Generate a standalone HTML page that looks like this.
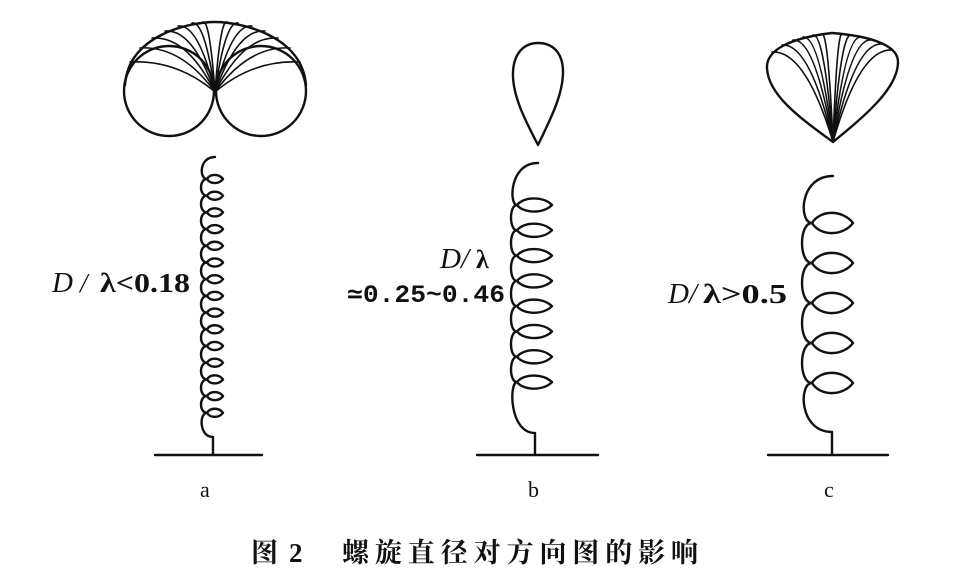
<!DOCTYPE html>
<html><head><meta charset="utf-8"><style>
html,body{margin:0;padding:0;background:#fff;}
svg{display:block;}
</style></head><body>
<svg id="s" width="971" height="569" viewBox="0 0 971 569" xmlns="http://www.w3.org/2000/svg">
<g fill="none" stroke="#111" stroke-width="2.4" stroke-linecap="round" stroke-linejoin="round">
<circle cx="169" cy="91" r="45"/>
<circle cx="261" cy="91" r="45"/>
<path d="M125,85 C128,35 190,22 215,22 C240,22 302,35 306,85"/>
<g id="fanA" stroke-width="1.6"></g>
<path d="M538,145 C525,120 512,95 513,72 C514,52 525,43 538,43 C552,43 563,52 563,72 C563,95 550,120 538,145 Z"/>
<path d="M833,142 C800,118 768,95 767,68 C766,50 790,38 832,33 C870,36 898,45 898,62 C898,88 866,115 833,142 Z"/>
<g id="fanC" stroke-width="1.6"></g>
<path id="hA"/>
<path id="hB"/>
<path id="hC"/>
<line x1="155" y1="455" x2="262" y2="455"/>
<line x1="477" y1="455" x2="598" y2="455"/>
<line x1="768" y1="455" x2="888" y2="455"/>
</g>
<g fill="#111">
<text x="52" y="292" font-family="Liberation Serif, serif" font-style="italic" font-size="29">D</text>
<text x="80" y="292" font-family="Liberation Serif, serif" font-style="italic" font-size="27">/</text>
<text x="100" y="292" font-family="Liberation Serif, serif" font-weight="bold" font-size="27" textLength="90" lengthAdjust="spacingAndGlyphs">λ&lt;0.18</text>
<text x="440" y="268" font-family="Liberation Serif, serif" font-style="italic" font-size="29">D/</text>
<text x="476" y="268" font-family="Liberation Serif, serif" font-weight="bold" font-size="26">λ</text>
<text x="347" y="302" font-family="Liberation Mono, monospace" font-weight="bold" font-size="25" textLength="158" lengthAdjust="spacingAndGlyphs">≃0.25~0.46</text>
<text x="668" y="303" font-family="Liberation Serif, serif" font-style="italic" font-size="29">D/</text>
<text x="703" y="303" font-family="Liberation Serif, serif" font-weight="bold" font-size="27" textLength="84" lengthAdjust="spacingAndGlyphs">λ&gt;0.5</text>
<text x="200" y="497" font-family="Liberation Serif, serif" font-size="22">a</text>
<text x="528" y="497" font-family="Liberation Serif, serif" font-size="22">b</text>
<text x="824" y="497" font-family="Liberation Serif, serif" font-size="22">c</text>
<text x="251" y="562" font-family="'Noto Serif CJK SC','Noto Sans CJK SC',serif" font-weight="bold" font-size="27">图</text>
<text x="289" y="562" font-family="Liberation Serif, serif" font-weight="bold" font-size="27">2</text>
<text x="342" y="562" font-family="'Noto Serif CJK SC','Noto Sans CJK SC',serif" font-weight="bold" font-size="27" textLength="356" lengthAdjust="spacing">螺旋直径对方向图的影响</text>
</g>
</svg>
<script>
function helix(id,o){
  var d="M"+o.tx+","+o.ty;
  var cx=o.cx,k=1.33*o.b;
  var y=o.y1;
  d+=" C"+(cx-k)+","+o.ty+" "+(cx-k)+","+y+" "+cx+","+y;
  for(var i=0;i<o.n;i++){
    y=o.y1+i*o.p;
    var H=o.h*1.35;
    d+=" C"+(cx+o.w*0.2)+","+(y-H)+" "+(cx+o.w*0.75)+","+(y-H)+" "+(cx+o.w)+","+y;
    d+=" C"+(cx+o.w*0.75)+","+(y+H)+" "+(cx+o.w*0.2)+","+(y+H)+" "+cx+","+y;
    if(i<o.n-1){
      d+=" C"+(cx-k)+","+y+" "+(cx-k)+","+(y+o.p)+" "+cx+","+(y+o.p);
    }
  }
  d+=" C"+(cx-k)+","+y+" "+(cx-k)+","+o.yb+" "+o.sx+","+o.yb;
  d+=" L"+o.sx+","+o.gy;
  document.getElementById(id).setAttribute("d",d);
}
helix("hA",{tx:215,ty:157,cx:207,w:16,h:4,p:16.7,n:15,y1:179,b:6,yb:437,sx:213,gy:455});
helix("hB",{tx:538,ty:163,cx:517,w:35,h:6.5,p:25.3,n:8,y1:205,b:6,yb:433,sx:535,gy:455});
helix("hC",{tx:833,ty:176,cx:812,w:41,h:10,p:40,n:5,y1:223,b:10,yb:432,sx:832,gy:455});
var ns="http://www.w3.org/2000/svg";
function fan(g,pts,ex,ey,bow){
  var el=document.getElementById(g);
  pts.forEach(function(p){
    var pa=document.createElementNS(ns,"path");
    var mx=p[0]+(ex-p[0])*0.55;
    pa.setAttribute("d","M"+p[0]+","+p[1]+" Q"+mx+","+(p[1]-bow*0.3)+" "+ex+","+ey);
    el.appendChild(pa);
  });
}
fan("fanA",[[130,62],[140,48],[152,38],[165,31],[178,26],[192,23],[203,22]],215,92,8);
fan("fanA",[[300,62],[290,48],[278,38],[265,31],[252,26],[238,23],[227,22]],215,92,8);
fan("fanC",[[772,52],[782,45],[793,40],[803,37],[813,35],[822,34]],833,142,6);
fan("fanC",[[892,50],[882,44],[871,40],[861,37],[851,35],[842,34]],833,142,6);
</script>
</body></html>
